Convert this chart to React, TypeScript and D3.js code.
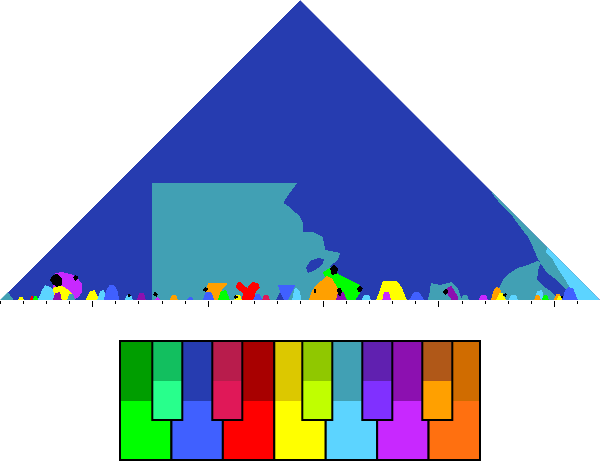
import React from 'react';
import * as d3 from 'd3';

// pitch classes, colours used by the keyscape (major = bright, minor = dark)
const pitchNames = ['C', 'C#', 'D', 'D#', 'E', 'F', 'F#', 'G', 'G#', 'A', 'A#', 'B'];
const majorColors = ['#00ff00', '#28ff8c', '#4060ff', '#e01858', '#ff0000', '#ffff00', '#c0ff00', '#5cd4ff', '#8030ff', '#c828ff', '#ffa000', '#ff7010'];
const minorColors = ['#009e00', '#12bf5f', '#263cb0', '#b81c4c', '#a80000', '#dcc800', '#90c800', '#41a0b4', '#6020b0', '#8c10b0', '#b05818', '#d06c00'];
const whiteKeys = [0, 2, 4, 5, 7, 9, 11];
const blackKeys = [1, 3, 6, 8, 10];

const measureCount = 26;

// regions as [position %, window size %]; key in upper case = major, lower case = minor, x = undecided
const largeRegions = [
    {key: 'd', pts: [[0, 0], [100, 0], [50, 100]]},
    {key: 'g', pts: [[25.3, 0], [25.3, 39], [49.5, 39], [48.7, 36.7], [47.8, 34.3], [47.2, 32.3], [48.3, 31], [50, 27.7], [50.5, 25.7], [50.5, 22.7], [52.2, 22.7], [53.8, 21], [54.2, 16.7], [56.7, 15.7], [56.3, 13.3], [55, 11.3], [57.5, 0]]},
    {key: 'd', pts: [[51, 10.7], [51.7, 13], [53, 14], [54, 13.7], [53.7, 11.7], [52.3, 9.7], [51.3, 9]]},
    {key: 'g', pts: [[81.7, 36.7], [82.2, 35], [83.3, 32.3], [85, 29], [86.7, 24.3], [88, 21], [88.8, 17.7], [89.5, 14.3], [90.5, 11], [91.2, 9], [92.8, 6.7], [94.5, 3.3], [95, 0], [100, 0]]},
    {key: 'G', pts: [[91.2, 17.7], [91, 16], [92.2, 13.3], [92.8, 11], [94.2, 6.7], [95.5, 2.3], [96.2, 0], [100, 0]]},
    {key: 'g', pts: [[83.3, 0], [83, 3.3], [83.8, 6.7], [85, 9], [86.3, 10.7], [88, 11.7], [89.5, 13], [90.2, 12.7], [89.7, 10], [89.5, 6.7], [90.8, 4.3], [92.2, 2.3], [93, 0]]},
    {key: 'g', pts: [[71.3, 0], [71.7, 3.3], [71.8, 5.7], [73.3, 5], [75.3, 6], [76.3, 4], [77, 0]]},
];

const baseBlobs = [
    {key: 'g', pts: [[0, 0], [1.3, 2.7], [2.3, 0]]},
    {key: 'F', pts: [[3, 0], [3.3, 1], [3.8, 1], [4, 0]]},
    {key: 'E', pts: [[5, 0], [5.2, 1.3], [5.5, 1.3], [5.7, 0]]},
    {key: 'C', pts: [[5.5, 0], [5.7, 1.3], [6.2, 1.3], [6.3, 0]]},
    {key: 'G', pts: [[6.3, 0], [7, 3.3], [7.5, 5], [8.7, 4], [9.3, 0]]},
    {key: 'A', pts: [[8.8, 5.7], [9.2, 9], [10.3, 9.3], [11.7, 8.7], [12.8, 7.7], [13.7, 5.3], [13.7, 2.7], [13, 0.7], [11.7, 0], [9.2, 0]]},
    {key: 'F', pts: [[8.8, 4], [10, 5], [10.8, 4.3], [12, 2.3], [12.2, 0], [9.2, 0]]},
    {key: 'a', pts: [[8.8, 0], [9.2, 2.3], [10, 2.7], [10.3, 0]]},
    {key: 'g', pts: [[11.2, 0], [11.5, 2], [12.2, 2], [12.5, 0]]},
    {key: 'F', pts: [[14.3, 0], [15, 3], [15.8, 3.3], [16.5, 0]]},
    {key: 'G', pts: [[16.2, 0], [16.7, 3], [17.3, 3.3], [18, 0]]},
    {key: 'D', pts: [[17.3, 0], [17.7, 3.3], [18.3, 5], [19, 5], [19.7, 2.7], [19.8, 0]]},
    {key: 'G', pts: [[20.8, 0], [21.2, 1.7], [21.8, 1.7], [22.2, 0]]},
    {key: 'a', pts: [[22.8, 0], [23.2, 2.3], [24, 2.3], [24.3, 0]]},
    {key: 'A', pts: [[25.8, 0], [26.2, 1], [26.7, 0]]},
    {key: 'A#', pts: [[28.3, 0], [28.7, 1.7], [29.3, 1.7], [29.7, 0]]},
    {key: 'D', pts: [[31.2, 0], [31.5, 1], [32, 1], [32.3, 0]]},
    {key: 'A#', pts: [[34.5, 0], [34.3, 3.3], [34.7, 5.7], [38, 5.7], [37, 3.3], [36.3, 0]]},
    {key: 'D', pts: [[33.8, 0], [34.3, 2.7], [35.2, 2.7], [35.7, 0]]},
    {key: 'C', pts: [[36.3, 0], [36.8, 3], [37.7, 3.3], [38.3, 0]]},
    {key: 'E', pts: [[39.5, 5.7], [40, 6], [41.2, 4], [42, 6], [43, 5.7], [43.3, 4], [42.5, 2.3], [42.8, 0], [40.3, 0], [40.5, 2.3], [39.3, 4]]},
    {key: 'F', pts: [[39, 0], [39.3, 1.7], [40, 1.7], [40.3, 0]]},
    {key: 'D', pts: [[42.2, 0], [42.7, 2], [43.3, 2], [43.7, 0]]},
    {key: 'D#', pts: [[43.7, 0], [44, 1.7], [44.7, 1.7], [45, 0]]},
    {key: 'D', pts: [[46.3, 5], [49.2, 5], [48.7, 2.7], [48, 0], [47.2, 0], [46.7, 2.7]]},
    {key: 'd', pts: [[46, 0], [46.7, 2.7], [47.3, 0]]},
    {key: 'G', pts: [[48.7, 0], [49, 3.3], [49.3, 4.3], [50, 2.7], [50.2, 0]]},
    {key: 'C', pts: [[53.8, 9.3], [55, 10.7], [56.7, 8.3], [58.3, 6.7], [60, 5], [60.3, 3.3], [59.2, 0], [57.5, 0], [56.7, 2.7], [55, 6], [54.2, 7.3]]},
    {key: 'A#', pts: [[51.5, 0], [52, 3.3], [53.3, 6], [54.5, 8], [55.3, 7.3], [56.3, 4], [57.2, 0]]},
    {key: 'a', pts: [[56, 0], [56.3, 2.3], [57.3, 2.7], [57.8, 0]]},
    {key: 'G', pts: [[60.3, 0], [60.7, 1.7], [61.5, 1.7], [61.8, 0]]},
    {key: 'F', pts: [[62.7, 0], [63.3, 3.3], [63.8, 6.3], [66.2, 6.3], [67, 4], [67.8, 0]]},
    {key: 'A', pts: [[63.7, 0], [64, 2.7], [64.8, 2.7], [65.2, 0]]},
    {key: 'D', pts: [[68.2, 0], [69, 2.7], [69.8, 2.7], [70.7, 0]]},
    {key: 'a', pts: [[74.5, 4], [75.2, 4.7], [76.3, 1.3], [76.3, 0], [75.3, 0], [74.3, 2.7]]},
    {key: 'g', pts: [[76.8, 0], [77.2, 1.7], [77.8, 1.7], [78.2, 0]]},
    {key: 'A', pts: [[79.8, 0], [80.2, 1.7], [81, 1.7], [81.3, 0]]},
    {key: 'A#', pts: [[81.8, 0], [82.3, 3.3], [82.8, 4.3], [83.3, 4], [84, 0]]},
    {key: 'F', pts: [[82.7, 0], [83.2, 2.3], [83.8, 2.3], [84.3, 0]]},
    {key: 'G', pts: [[84.8, 0], [85.2, 1.7], [86, 1.7], [86.3, 0]]},
    {key: 'G', pts: [[89.2, 0], [89.5, 3], [90.3, 3.3], [90.8, 0]]},
    {key: 'A#', pts: [[89, 0], [89.3, 1.7], [89.8, 1.7], [90.2, 0]]},
    {key: 'C', pts: [[90.3, 0], [90.7, 1.7], [91.2, 1.7], [91.5, 0]]},
    {key: 'A#', pts: [[92.3, 0], [92.7, 2], [93.3, 2], [93.7, 0]]},
    {key: 'F', pts: [[92.8, 0], [93, 1.3], [93.5, 1.3], [93.7, 0]]},
    {key: 'D', pts: [[93.7, 0], [94.2, 3.3], [94.7, 4.3], [95.5, 4], [96.3, 0]]},
];

const blackSpots = [
    [[8.3, 6.7], [8.8, 8.3], [9.5, 8.7], [10.3, 7.3], [10.3, 5], [9.5, 4.3], [8.8, 5.3]],
    [[12.2, 7.7], [12.5, 8.3], [13, 8], [13, 7], [12.5, 6.3]],
    [[21.2, 1.3], [21.5, 2.3], [21.8, 1.7], [21.7, 0.7]],
    [[25.5, 1.7], [25.8, 2.7], [26.3, 2], [26.2, 1]],
    [[33.8, 3.3], [34.3, 4.3], [34.8, 3.7], [34.3, 2.7]],
    [[39, 1], [39.3, 1.7], [39.7, 1], [39.3, 0.3]],
    [[55, 10.7], [55.7, 11.7], [56.3, 10.7], [56.2, 8.7], [55.3, 8.3]],
    [[56.2, 3.7], [56.7, 4.3], [57, 3], [56.8, 1.3], [56.3, 1.7]],
    [[59.5, 3.7], [60, 4.7], [60.5, 4], [60.2, 2.7], [59.7, 2.7]],
    [[52.2, 3], [52.5, 3.7], [52.8, 3], [52.5, 2.3]],
    [[73.8, 2.7], [74.3, 3.7], [74.8, 3], [74.3, 1.7]],
    [[83.8, 1.7], [84.2, 2.3], [84.5, 1.7], [84.2, 1]],
    [[93.3, 1], [93.7, 1.3], [94, 1], [93.7, 0.5]],
];

function colorOf(key: string) {
    if (key === 'x') return '#000000';
    const idx = pitchNames.indexOf(key.toUpperCase());
    return key[0] === key[0].toUpperCase() ? majorColors[idx] : minorColors[idx];
}

export default function App() {
    const width = 600;
    const height = 461;
    const plotH = 300;

    const xScale = d3.scaleLinear().domain([0, 100]).range([0, width]);
    const yScale = d3.scaleLinear().domain([0, 100]).range([plotH, 0]);
    const measureScale = d3.scaleLinear().domain([0, measureCount]).range([0, width]);

    const shape = d3.line<number[]>()
        .x(d => xScale(d[0]))
        .y(d => yScale(d[1]))
        .curve(d3.curveLinearClosed);

    const triangle = shape([[0, 0], [100, 0], [50, 100]]) as string;

    // keyboard legend
    const semitone = d3.scaleLinear().domain([0, 12]).range([120, 480]);
    const whiteScale = d3.scaleBand<number>().domain(d3.range(7)).range([120, 480]);
    const legTop = 341, whiteSplit = 401, legBottom = 460;
    const blackSplit = 381, blackBottom = 420;

    const regions = [
        ...largeRegions,
        ...baseBlobs,
        ...blackSpots.map(pts => ({key: 'x', pts})),
    ];

    return (
        <svg width={width} height={height} style={{position: 'absolute', left: 0, top: 0, background: '#fff'}}>
            <defs>
                <clipPath id="tri">
                    <path d={triangle}/>
                </clipPath>
            </defs>
            <g clipPath="url(#tri)" shapeRendering="crispEdges">
                {regions.map((r, i) => (
                    <path key={i} d={shape(r.pts) as string} fill={colorOf(r.key)}/>
                ))}
            </g>

            {/* measure ticks */}
            <g>
                {d3.range(measureCount).map(i => {
                    const x = Math.round(measureScale(i)) + 0.5;
                    const major = (i + 1) % 5 === 0;
                    return <line key={i} x1={x} x2={x} y1={plotH + 1} y2={plotH + (major ? 7 : 4)} stroke="#000" strokeWidth={1}/>;
                })}
            </g>

            {/* key colour legend */}
            <g>
                {whiteKeys.map((s, i) => {
                    const x = whiteScale(i) as number;
                    const w = whiteScale.bandwidth();
                    return (
                        <g key={'w' + s}>
                            <rect x={x} y={legTop} width={w} height={whiteSplit - legTop} fill={minorColors[s]}/>
                            <rect x={x} y={whiteSplit} width={w} height={legBottom - whiteSplit} fill={majorColors[s]}/>
                            <rect x={x} y={legTop} width={w} height={legBottom - legTop} fill="none" stroke="#000" strokeWidth={2}/>
                        </g>
                    );
                })}
                {blackKeys.map(s => {
                    const x = semitone(s) + 2.3;
                    const w = semitone(1) - semitone(0);
                    return (
                        <g key={'b' + s}>
                            <rect x={x} y={legTop} width={w} height={blackSplit - legTop} fill={minorColors[s]}/>
                            <rect x={x} y={blackSplit} width={w} height={blackBottom - blackSplit} fill={majorColors[s]}/>
                            <rect x={x} y={legTop} width={w} height={blackBottom - legTop} fill="none" stroke="#000" strokeWidth={2}/>
                        </g>
                    );
                })}
            </g>
        </svg>
    );
}
